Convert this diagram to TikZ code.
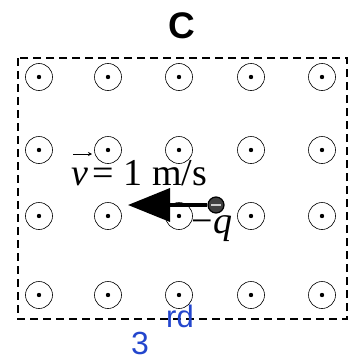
\documentclass[tikz,border=0pt]{standalone}
\usepackage{fontspec}
\setmainfont{Liberation Serif}
\newfontfamily\headfont{Liberation Sans}
\usetikzlibrary{arrows.meta}
\definecolor{handblue}{RGB}{35,70,205}
\begin{document}
\begin{tikzpicture}[x=1pt,y=-1pt,>=stealth,
		field/.style={circle,draw,semithick,minimum size=27pt,inner sep=0pt},
		bigtext/.style={font=\fontsize{38}{38}\selectfont,inner sep=0pt}]
	\useasboundingbox (0,0) rectangle (357,364);
	\def\xmin{18}\def\xmax{347}\def\ymin{58}\def\ymax{319}
	\draw[line width=1.5pt,dash pattern=on 8pt off 5pt](\xmin,\ymin) rectangle (\xmax,\ymax);
	\node[font=\headfont\bfseries\fontsize{37}{37}\selectfont,inner sep=0pt] (title) at (182,26) {C};
	\foreach \i/\x in {1/39,2/108,3/179,4/251,5/322}
	\foreach \j/\y in {1/77,2/150,3/216,4/295}{
		\node[field] (b\i\j) at (\x,\y) {};
		\fill (b\i\j) circle (2.2pt);}
	\node[circle,draw,very thick,fill=black!75,minimum size=16pt,inner sep=0pt] (q) at (216,205) {};
	\draw[white!80!black,line width=2.2pt]([xshift=-5pt]q.center)--([xshift=5pt]q.center);
	\coordinate (tip) at (128,205);
	\draw[line width=3.5pt,-{Triangle[length=42pt,width=33pt]}](q.west)--(tip);
	% velocity label, arrow over the v drawn by hand
	\node[bigtext,anchor=base west] (vel) at (71,185) {\itshape v\upshape\hspace{0.12em}= 1 m/s};
	\coordinate (vecl) at (73,154);
	\coordinate (vecr) at (92,154);
	\draw[thick,-{Stealth[length=4pt,width=4pt]}](vecl)--(vecr);
	\node[bigtext] (charge) at (212,229) {−\itshape q};
	\node[text=handblue,font=\headfont\fontsize{32}{32}\selectfont,inner sep=0pt] (third) at (140,343) {3};
	\node[text=handblue,font=\headfont\fontsize{31}{31}\selectfont,inner sep=0pt] (thirdsup) at (180,316) {rd};
\end{tikzpicture}
\end{document}
